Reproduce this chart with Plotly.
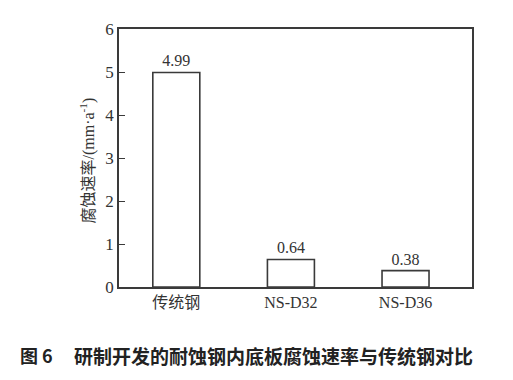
import plotly.graph_objects as go

categories = ["传统钢", "NS-D32", "NS-D36"]
rates = [4.99, 0.64, 0.38]
rate_labels = ["4.99", "0.64", "0.38"]
y_ticks = [0, 1, 2, 3, 4, 5, 6]

LINE = "#3a3a3a"
SERIF = "Liberation Serif, Times New Roman, Noto Sans CJK SC, serif"
CJK = "Noto Sans CJK SC, sans-serif"

fig = go.Figure()
fig.add_trace(go.Bar(
    x=list(range(len(categories))),
    y=rates,
    width=0.41,
    marker=dict(color="white", line=dict(color=LINE, width=1.6)),
    text=rate_labels,
    textposition="outside",
    textfont=dict(family=SERIF, size=16, color="#333"),
    cliponaxis=False,
))

fig.update_layout(
    width=505, height=372,
    margin=dict(l=111, r=41, t=21, b=93),
    paper_bgcolor="white", plot_bgcolor="white",
    showlegend=False,
    xaxis=dict(
        range=[-0.5, 2.58],
        tickvals=list(range(len(categories))),
        ticktext=categories,
        ticks="",
        showgrid=False, zeroline=False,
        showline=True, linecolor=LINE, linewidth=1.6, mirror=True,
        tickfont=dict(family=SERIF, size=16, color="#333"),
    ),
    yaxis=dict(
        range=[0, 6],
        tickvals=y_ticks,
        ticks="inside", ticklen=6, tickcolor=LINE, tickwidth=1.4,
        showgrid=False, zeroline=False,
        showline=True, linecolor=LINE, linewidth=1.6, mirror=True,
        tickfont=dict(family=SERIF, size=17, color="#333"),
    ),
    annotations=[
        dict(text="腐蚀速率/(mm·a<sup>-1</sup>)", textangle=-90,
             xref="paper", yref="paper", x=-0.088, y=0.49,
             showarrow=False, xanchor="center", yanchor="middle",
             font=dict(family="Liberation Serif, Noto Sans CJK SC, serif", size=16, color="#333")),
        dict(text="<b>图 6</b>",
             xref="paper", yref="paper", x=(18 - 119) / 353, y=-0.264,
             showarrow=False, xanchor="left", yanchor="middle",
             font=dict(family=CJK, size=18, color="#222")),
        dict(text="<b>研制开发的耐蚀钢内底板腐蚀速率与传统钢对比</b>",
             xref="paper", yref="paper", x=(72 - 119) / 353, y=-0.264,
             showarrow=False, xanchor="left", yanchor="middle",
             font=dict(family=CJK, size=19, color="#222")),
    ],
)

fig.write_html("out.html")
